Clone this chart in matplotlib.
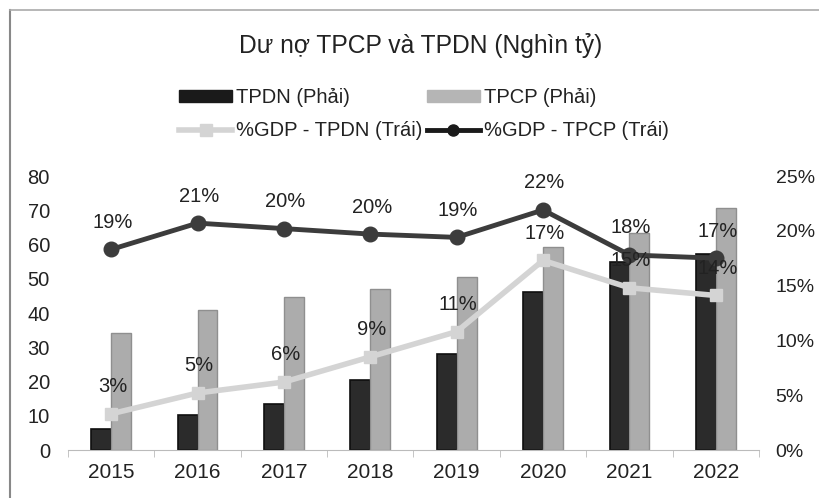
import numpy as np
import matplotlib.pyplot as plt
from matplotlib.lines import Line2D

plt.rcParams['font.family'] = ['Liberation Sans', 'DejaVu Sans']

years = ['2015', '2016', '2017', '2018', '2019', '2020', '2021', '2022']
tpdn = [6.1, 10.1, 13.5, 20.3, 28.1, 46.2, 55.0, 57.2]
tpcp = [34.3, 40.8, 44.6, 46.9, 50.5, 59.2, 63.5, 70.7]
gdp_tpcp = [18.3, 20.7, 20.2, 19.7, 19.4, 21.9, 17.8, 17.5]
gdp_tpdn = [3.3, 5.2, 6.2, 8.5, 10.8, 17.3, 14.8, 14.1]
lbl_tpcp = ['19%', '21%', '20%', '20%', '19%', '22%', '18%', '17%']
lbl_tpdn = ['3%', '5%', '6%', '9%', '11%', '17%', '15%', '14%']

fig = plt.figure(figsize=(8.2, 4.98), dpi=100)
ax = fig.add_axes([68 / 820, 48 / 498, 691 / 820, 274 / 498])
ax2 = ax.twinx()

x = np.arange(len(years))
w = 0.23
ax.bar(x - w / 2, tpdn, w, color='#2b2b2b', edgecolor='#0f0f0f', linewidth=1.2, zorder=2)
ax.bar(x + w / 2, tpcp, w, color='#acacac', edgecolor='#8f8f8f', linewidth=1.0, zorder=2)

ax2.plot(x, gdp_tpdn, color='#d4d4d4', lw=4, marker='s', ms=9, zorder=3)
ax2.plot(x, gdp_tpcp, color='#3c3c3c', lw=3.5, marker='o', ms=10.5, zorder=4)

for i in range(len(years)):
    ax2.annotate(lbl_tpcp[i], (x[i], gdp_tpcp[i]), xytext=(1, 19.5), textcoords='offset points',
                 ha='center', va='center', fontsize=14.5, color='#222222', zorder=6)
    ax2.annotate(lbl_tpdn[i], (x[i], gdp_tpdn[i]), xytext=(1, 19.5), textcoords='offset points',
                 ha='center', va='center', fontsize=14.5, color='#222222', zorder=6)

ax.set_xlim(-0.5, len(years) - 0.5)
ax.set_ylim(0, 80)
ax.set_yticks(range(0, 81, 10))
ax2.set_ylim(0, 25)
ax2.set_yticks(range(0, 26, 5))
ax2.set_yticklabels([f'{v}%' for v in range(0, 26, 5)])

ax.set_xticks(x)
ax.set_xticklabels(years)
ax.set_xticks(np.arange(-0.5, len(years), 1), minor=True)
ax.tick_params(axis='x', which='major', length=0, pad=9, labelsize=15, colors='#222222')
ax.tick_params(axis='x', which='minor', length=5, color='#bbbbbb', direction='out')
ax.tick_params(axis='y', length=0, pad=13, labelsize=14.5, colors='#222222')
ax2.tick_params(axis='y', length=0, pad=12, labelsize=14, colors='#222222')

for a in (ax, ax2):
    for s in ('top', 'left', 'right'):
        a.spines[s].set_visible(False)
ax2.spines['bottom'].set_visible(False)
ax.spines['bottom'].set_color('#bbbbbb')

fig.text(421 / 820, 1 - 45 / 498, 'Dư nợ TPCP và TPDN (Nghìn tỷ)', ha='center', va='center',
         fontsize=17.7, color='#222222')

handles = [
    plt.Rectangle((0, 0), 1, 1, color='#1a1a1a'),
    Line2D([], [], color='#d4d4d4', lw=4, marker='s', ms=8),
    plt.Rectangle((0, 0), 1, 1, color='#b5b5b5'),
    Line2D([], [], color='#1a1a1a', lw=3.5, marker='o', ms=8),
]
labels = ['TPDN (Phải)', '%GDP - TPDN (Trái)', 'TPCP (Phải)', '%GDP - TPCP (Trái)']
fig.legend(handles, labels, ncol=2, loc='center', bbox_to_anchor=(424 / 820, 1 - 114 / 498),
           frameon=False, fontsize=14.5, handlelength=2.6, handleheight=0.5, handletextpad=0.2,
           columnspacing=0.25, labelspacing=0.7, labelcolor='#222222')

fig.add_artist(Line2D([10 / 820, 10 / 820], [0, 1 - 10 / 498], color='#888888', lw=1.5))
fig.add_artist(Line2D([10 / 820, 1], [1 - 10 / 498, 1 - 10 / 498], color='#aaaaaa', lw=1.2))

fig.savefig('out.png', dpi=100)
